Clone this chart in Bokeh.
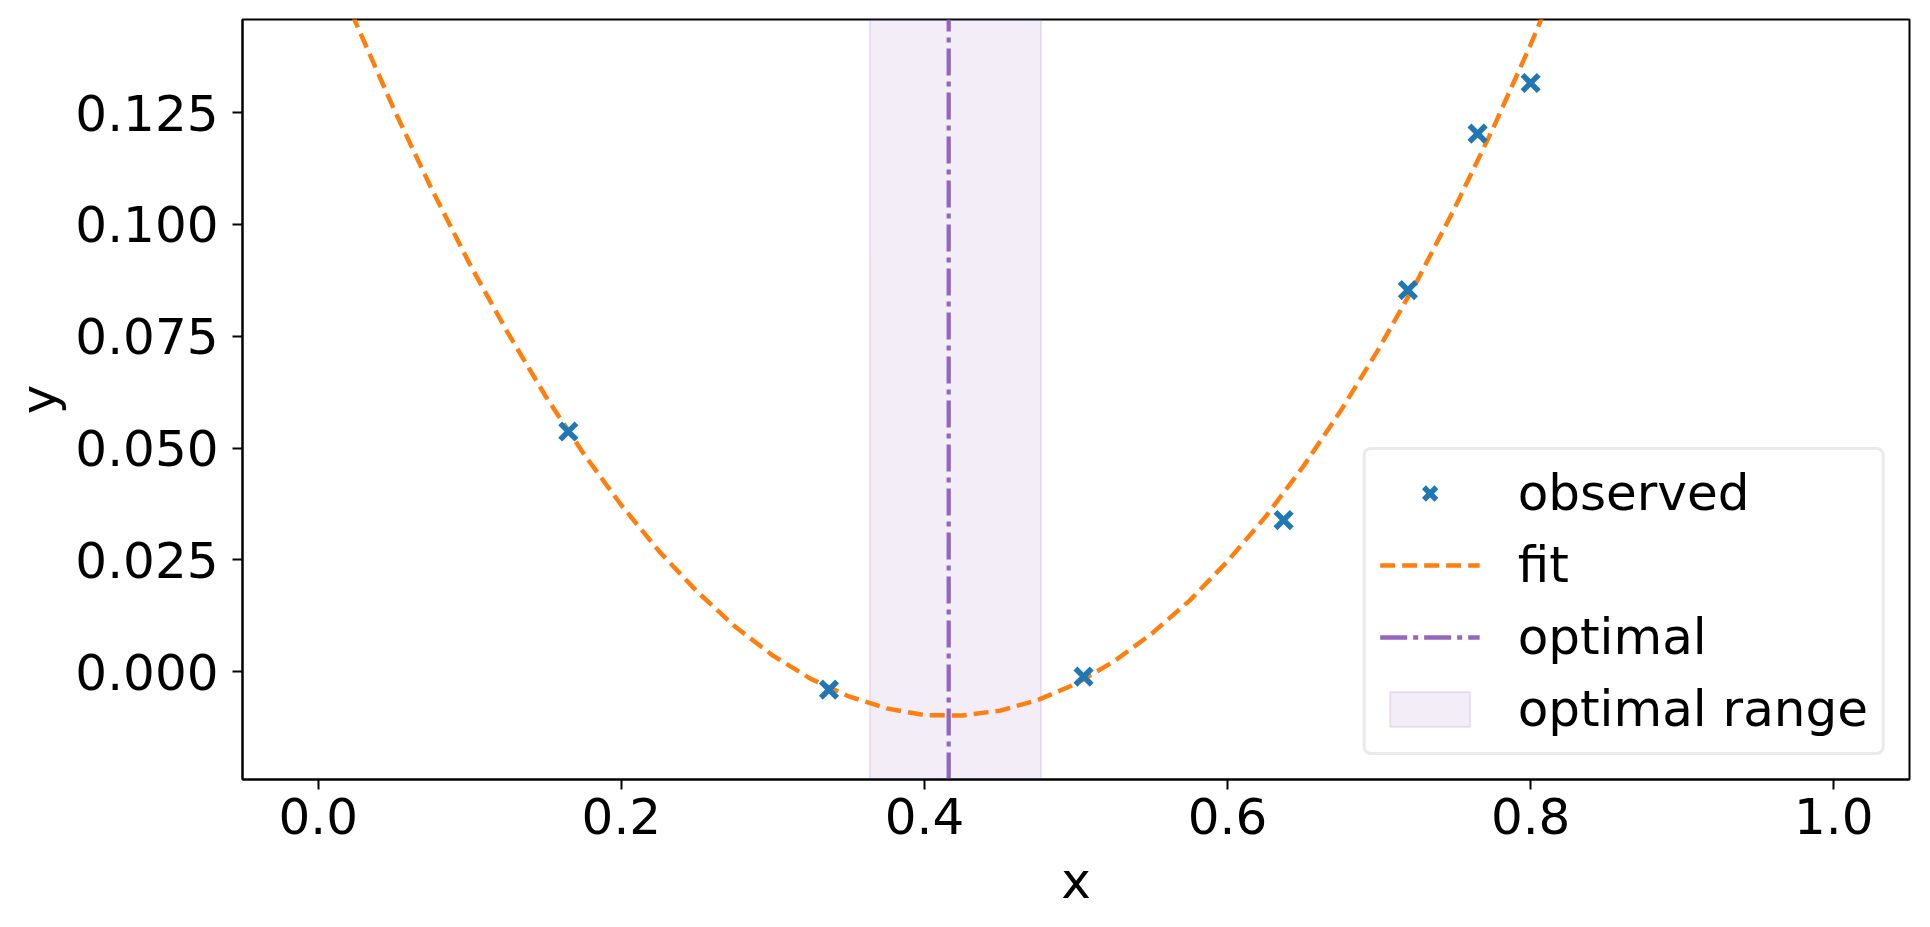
from bokeh.plotting import figure
from bokeh.models import Range1d, FixedTicker, Legend, LegendItem
from bokeh.embed import file_html
from bokeh.resources import INLINE

# ---- data ----
obs_x = [0.165, 0.337, 0.505, 0.637, 0.719, 0.765, 0.800]
obs_y = [0.0537, -0.0040, -0.0011, 0.0339, 0.0853, 0.1203, 0.1316]

fit_x = [0.000, 0.025, 0.050, 0.075, 0.100, 0.125, 0.150, 0.175, 0.200,
         0.225, 0.250, 0.275, 0.300, 0.325, 0.350, 0.375, 0.400, 0.425,
         0.450, 0.475, 0.500, 0.525, 0.550, 0.575, 0.600, 0.625, 0.650,
         0.675, 0.700, 0.725, 0.750, 0.775, 0.800, 0.825, 0.850, 0.900,
         0.950, 1.000]
fit_y = [0.1653, 0.1449, 0.1257, 0.1078, 0.0911, 0.0758, 0.0616, 0.0488,
         0.0372, 0.0269, 0.0179, 0.0101, 0.0036, -0.0016, -0.0055, -0.0082,
         -0.0097, -0.0098, -0.0087, -0.0063, -0.0027, 0.0023, 0.0085, 0.0159,
         0.0247, 0.0346, 0.0459, 0.0585, 0.0723, 0.0873, 0.1037, 0.1213,
         0.1402, 0.1603, 0.1817, 0.2284, 0.2801, 0.3369]

optimal_x = 0.416
optimal_range = [0.364, 0.477]

x_lims = [-0.05, 1.05]
y_lims = [-0.0241, 0.1458]

x_ticks = [0.0, 0.2, 0.4, 0.6, 0.8, 1.0]
x_tick_labels = ["0.0", "0.2", "0.4", "0.6", "0.8", "1.0"]
y_ticks = [0.0, 0.025, 0.05, 0.075, 0.1, 0.125]
y_tick_labels = ["0.000", "0.025", "0.050", "0.075", "0.100", "0.125"]

BLUE = "#1f77b4"
ORANGE = "#ff7f0e"
PURPLE = "#9467bd"
FONT = "DejaVu Sans"
FS = "50px"

p = figure(frame_width=1667, frame_height=760,
           min_border_left=242, min_border_right=21,
           min_border_top=19, min_border_bottom=140,
           x_range=Range1d(*x_lims), y_range=Range1d(*y_lims),
           output_backend="svg", toolbar_location=None)

p.xgrid.visible = False
p.ygrid.visible = False
p.outline_line_color = "black"
p.outline_line_width = 2
p.outline_line_alpha = 1.0
p.background_fill_color = "white"
p.border_fill_color = "white"

band = p.quad(left=[optimal_range[0]], right=[optimal_range[1]],
              bottom=[y_lims[0]], top=[y_lims[1]],
              fill_color=PURPLE, fill_alpha=0.12,
              line_color=PURPLE, line_alpha=0.15, line_width=2)

fit = p.line(fit_x, fit_y, line_color=ORANGE, line_width=4.5, line_dash="15 7")

opt = p.line([optimal_x, optimal_x], y_lims, line_color=PURPLE, line_width=4.3,
             line_dash="27 6 5 6")

obs = p.scatter(obs_x, obs_y, marker="x", size=23, line_color=BLUE, line_width=5.5)

for ax in (p.xaxis[0], p.yaxis[0]):
    ax.axis_line_width = 2
    ax.major_tick_line_width = 2
    ax.major_tick_out = 10
    ax.major_tick_in = 0
    ax.minor_tick_line_color = None
    ax.major_label_text_font = FONT
    ax.major_label_text_font_size = FS
    ax.major_label_text_color = "black"
    ax.axis_label_text_font = FONT
    ax.axis_label_text_font_size = FS
    ax.axis_label_text_font_style = "normal"
    ax.axis_label_text_color = "black"

p.xaxis.ticker = FixedTicker(ticks=x_ticks)
p.xaxis.major_label_overrides = dict(zip(x_ticks, x_tick_labels))
p.yaxis.ticker = FixedTicker(ticks=y_ticks)
p.yaxis.major_label_overrides = dict(zip(y_ticks, y_tick_labels))
p.xaxis.axis_label = "x"
p.yaxis.axis_label = "y"
p.xaxis.major_label_standoff = 8
p.yaxis.major_label_standoff = 14
p.xaxis.axis_label_standoff = 15
p.yaxis.axis_label_standoff = 4

legend = Legend(items=[
    LegendItem(label="observed", renderers=[obs]),
    LegendItem(label="fit", renderers=[fit]),
    LegendItem(label="optimal", renderers=[opt]),
    LegendItem(label="optimal range", renderers=[band]),
], location="bottom_right")
legend.margin = 24
legend.padding = 14
legend.spacing = 14
legend.glyph_width = 100
legend.glyph_height = 44
legend.label_standoff = 38
legend.label_text_font = FONT
legend.label_text_font_size = FS
legend.label_text_color = "black"
legend.border_line_color = "#d6d6d6"
legend.border_line_width = 3
legend.background_fill_color = "white"
legend.background_fill_alpha = 0.8
try:
    legend.border_radius = 8
except Exception:
    pass
p.add_layout(legend)

open("out.html", "w").write(file_html(p, INLINE))
